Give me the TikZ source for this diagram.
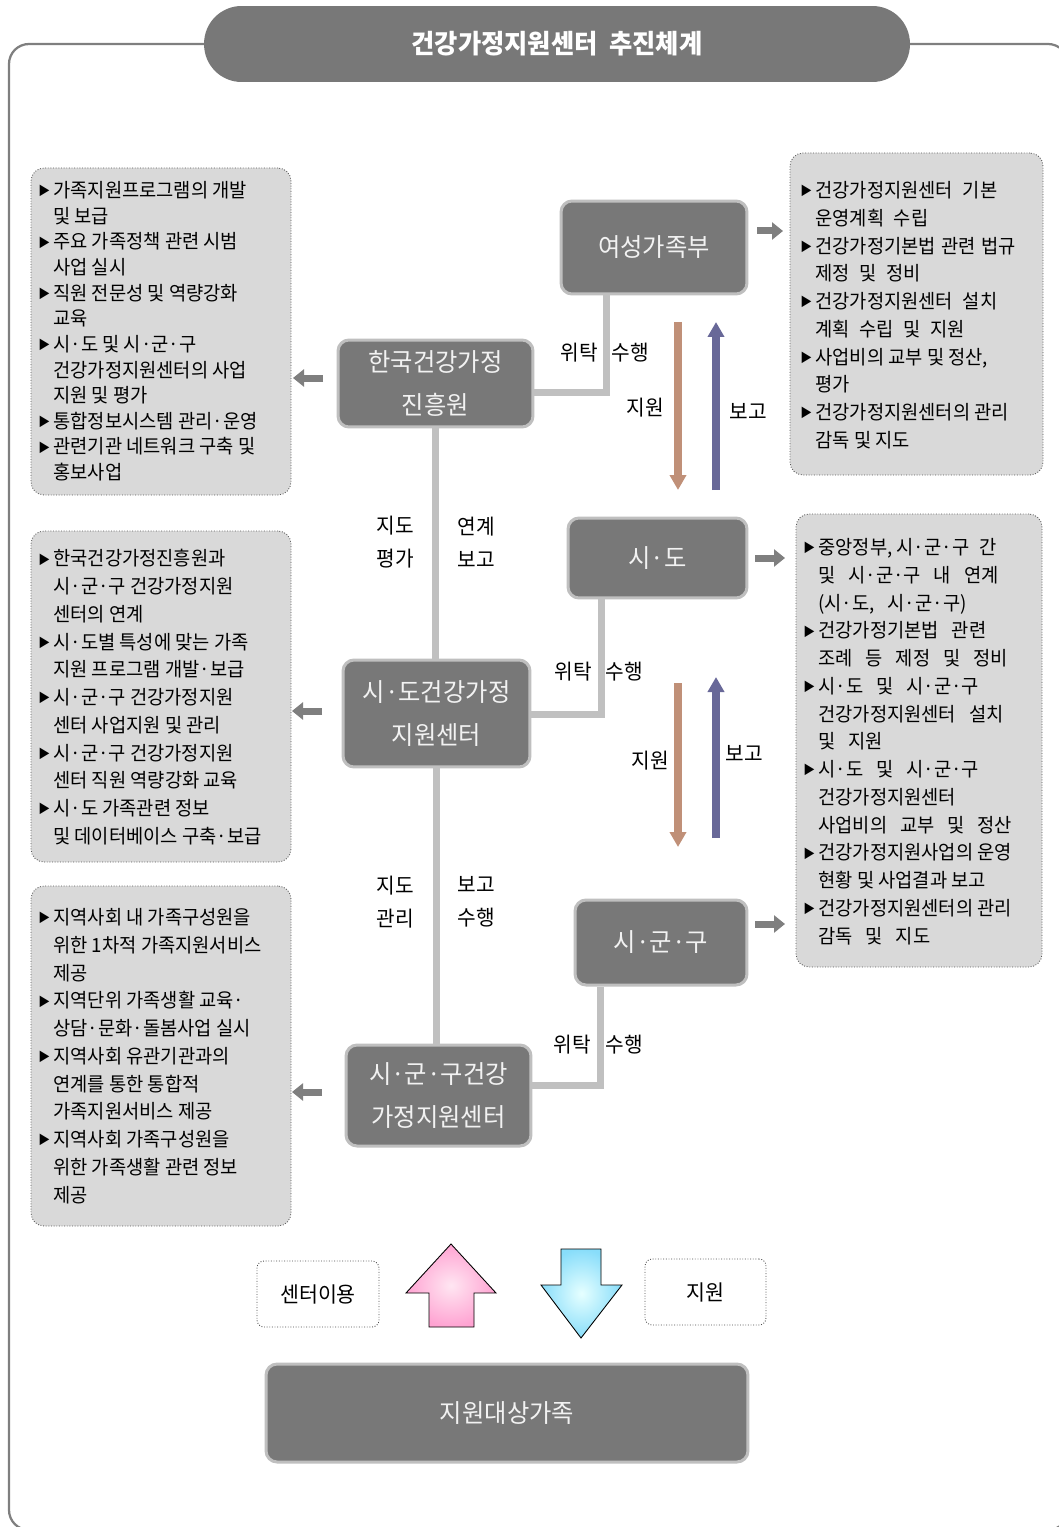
\documentclass[tikz,border=0pt]{standalone}
\usepackage{fontspec}
\newfontfamily\kr[FakeStretch=0.96]{Noto Sans CJK KR}
\usetikzlibrary{arrows.meta,fit}

\definecolor{boxfill}{HTML}{787878}
\definecolor{boxedge}{HTML}{BFBFBF}
\definecolor{conncol}{HTML}{C0C0C0}
\definecolor{infofill}{HTML}{D9D9D9}
\definecolor{framecol}{HTML}{7F7F7F}
\definecolor{garrowcol}{HTML}{7F7F7F}
\definecolor{browncol}{HTML}{C09078}
\definecolor{purplecol}{HTML}{686898}
\definecolor{pinkin}{HTML}{FFE6F2}
\definecolor{pinkout}{HTML}{FFA3D2}
\definecolor{bluein}{HTML}{E6FFFF}
\definecolor{blueout}{HTML}{88DDFA}

\newcommand{\bul}{\makebox[0.3cm][l]{\raisebox{0.15ex}{\fontsize{7}{7}\selectfont ▶}}}
\newcommand{\ind}{\hspace*{0.3cm}}
\newcommand{\ws}{\hspace{0.5em}}
\newcommand{\wws}{\hspace{0.66em}}
\newcommand{\ns}{\hspace{0.28em}}

\tikzset{
  darkbox/.style={draw=boxedge, line width=0.06cm, fill=boxfill, rounded corners=0.22cm, inner sep=0pt, text=white!95!black, align=center, font=\kr\fontsize{14.4}{24}\selectfont},
  titlebox/.style={fill=boxfill, rounded corners=0.75cm, inner sep=0pt, text=white, font=\kr\bfseries\fontsize{15}{18}\selectfont},
  infobox/.style={draw=black!65, densely dotted, line width=0.5pt, fill=infofill, rounded corners=0.26cm, inner sep=0pt},
  infotext/.style={anchor=north west, inner sep=0pt, align=left, text=black, font=\kr\fontsize{11.1}{15.8}\selectfont},
  dotbox/.style={draw=black!70, densely dotted, line width=0.5pt, fill=white, rounded corners=0.14cm, inner sep=0pt, font=\kr\fontsize{12.2}{14}\selectfont},
  lbl/.style={inner sep=0pt, align=center, text=black, font=\kr\fontsize{12}{18.7}\selectfont},
  conn/.style={draw=conncol, line width=0.14cm},
  garrow/.style={draw=garrowcol, line width=0.14cm, -{Triangle[width=0.34cm,length=0.22cm]}},
  brownarrow/.style={draw=browncol, line width=0.15cm, -{Triangle[width=0.32cm,length=0.3cm]}},
  purplearrow/.style={draw=purplecol, line width=0.15cm, -{Triangle[width=0.32cm,length=0.3cm]}},
  framestyle/.style={draw=framecol, line width=0.045cm, rounded corners=0.4cm},
}

\begin{document}
\begin{tikzpicture}[x=0.02cm,y=-0.02cm]
\useasboundingbox (0,0) rectangle (1058,1527);

% outer frame and title
\draw[framestyle] (9,44) rectangle (1068,1530);
\node[titlebox, minimum width=14.12cm, minimum height=1.52cm] (ttl) at (557,44) {건강가정지원센터\ \ 추진체계};

% info boxes
\node[infobox, fit={(31,168)(291,495)}] (L1) {};
\node[infobox, fit={(790,153)(1043,475)}] (R1) {};
\node[infobox, fit={(31,531)(291,862)}] (L2) {};
\node[infobox, fit={(796,514)(1042,967)}] (R2) {};
\node[infobox, fit={(31,886)(291,1226)}] (L3) {};

\node[infotext, font=\kr\fontsize{11.1}{14.6}\selectfont] (tL1) at (38,181) {%
\bul 가족지원프로그램의 개발\\
\ind 및 보급\\
\bul 주요 가족정책 관련 시범\\
\ind 사업 실시\\
\bul 직원 전문성 및 역량강화\\
\ind 교육\\
\bul 시·도 및 시·군·구\\
\ind 건강가정지원센터의 사업\\
\ind 지원 및 평가\\
\bul 통합정보시스템 관리·운영\\
\bul 관련기관 네트워크 구축 및\\
\ind 홍보사업};

\node[infotext] (tR1) at (800,181) {%
\bul 건강가정지원센터\ws 기본\\
\ind 운영계획\ws 수립\\
\bul 건강가정기본법\ns 관련\ns 법규\\
\ind 제정\ws 및\ws 정비\\
\bul 건강가정지원센터\ws 설치\\
\ind 계획\ws 수립\ws 및\ws 지원\\
\bul 사업비의 교부 및 정산,\\
\ind 평가\\
\bul 건강가정지원센터의 관리\\
\ind 감독 및 지도};

\node[infotext] (tL2) at (38,549) {%
\bul 한국건강가정진흥원과\\
\ind 시·군·구 건강가정지원\\
\ind 센터의 연계\\
\bul 시·도별 특성에 맞는 가족\\
\ind 지원 프로그램 개발·보급\\
\bul 시·군·구 건강가정지원\\
\ind 센터 사업지원 및 관리\\
\bul 시·군·구 건강가정지원\\
\ind 센터 직원 역량강화 교육\\
\bul 시·도 가족관련 정보\\
\ind 및 데이터베이스 구축·보급};

\node[infotext] (tR2) at (803,538) {%
\bul 중앙정부, 시·군·구\ws 간\\
\ind 및\wws 시·군·구\wws 내\wws 연계\\
\ind (시·도,\wws 시·군·구)\\
\bul 건강가정기본법\wws 관련\\
\ind 조례\wws 등\wws 제정\wws 및\wws 정비\\
\bul 시·도\wws 및\wws 시·군·구\\
\ind 건강가정지원센터\wws 설치\\
\ind 및\wws 지원\\
\bul 시·도\wws 및\wws 시·군·구\\
\ind 건강가정지원센터\\
\ind 사업비의\wws 교부\wws 및\wws 정산\\
\bul 건강가정지원사업의 운영\\
\ind 현황 및 사업결과 보고\\
\bul 건강가정지원센터의 관리\\
\ind 감독\wws 및\wws 지도};

\node[infotext] (tL3) at (38,908) {%
\bul 지역사회 내 가족구성원을\\
\ind 위한 1차적 가족지원서비스\\
\ind 제공\\
\bul 지역단위 가족생활 교육·\\
\ind 상담·문화·돌봄사업 실시\\
\bul 지역사회 유관기관과의\\
\ind 연계를 통한 통합적\\
\ind 가족지원서비스 제공\\
\bul 지역사회 가족구성원을\\
\ind 위한 가족생활 관련 정보\\
\ind 제공};

% dark boxes
\node[darkbox, minimum width=3.72cm, minimum height=1.86cm] (yg) at (654,247.5) {여성가족부};
\node[darkbox, minimum width=3.9cm, minimum height=1.74cm] (hk) at (435.5,383.5) {한국건강가정\\진흥원};
\node[darkbox, minimum width=3.58cm, minimum height=1.6cm] (sd) at (657.5,558) {시·도};
\node[darkbox, minimum width=3.74cm, minimum height=2.14cm] (sdc) at (436.5,713.5) {시·도건강가정\\지원센터};
\node[darkbox, minimum width=3.44cm, minimum height=1.7cm] (sgg) at (661,942.5) {시·군·구};
\node[darkbox, minimum width=3.7cm, minimum height=2.02cm] (sggc) at (438.5,1095.5) {시·군·구건강\\가정지원센터};
\node[darkbox, minimum width=9.64cm, minimum height=1.96cm] (fam) at (507,1413) {지원대상가족};

% connectors
\coordinate (e1) at (606,392);
\coordinate (e2) at (601,714);
\coordinate (e3) at (600,1085);
\draw[conn] (hk.east |- e1) -- (e1) -- (yg.south -| e1);
\draw[conn] (sdc.east |- e2) -- (e2) -- (sd.south -| e2);
\draw[conn] (sggc.east |- e3) -- (e3) -- (sgg.south -| e3);
\draw[conn] (hk.south) -- (hk.south |- sdc.north);
\draw[conn] (sdc.south) -- (sdc.south |- sggc.north);

% labels
\node[lbl] (w1) at (579,353) {위탁};
\node[lbl] (s1) at (630,353) {수행};
\node[lbl] (j1) at (645,408) {지원};
\node[lbl] (b1) at (748,411) {보고};
\node[lbl] (jd1) at (395,542) {지도\\평가};
\node[lbl] (yb1) at (476,542) {연계\\보고};
\node[lbl] (w2) at (573,672) {위탁};
\node[lbl] (s2) at (624,672) {수행};
\node[lbl] (j2) at (650,761) {지원};
\node[lbl] (b2) at (744,753) {보고};
\node[lbl] (jd2) at (395,902) {지도\\관리};
\node[lbl] (yb2) at (476,902) {보고\\수행};
\node[lbl] (w3) at (572,1045) {위탁};
\node[lbl] (s3) at (624,1045) {수행};

% support / report arrows
\coordinate (a1t) at (678,322); \coordinate (a1b) at (678,490);
\coordinate (a2t) at (716,322); \coordinate (a2b) at (716,490);
\coordinate (a3t) at (678,683); \coordinate (a3b) at (678,847);
\coordinate (a4t) at (716,677); \coordinate (a4b) at (716,838);
\draw[brownarrow] (a1t) -- (a1b);
\draw[purplearrow] (a2b) -- (a2t);
\draw[brownarrow] (a3t) -- (a3b);
\draw[purplearrow] (a4b) -- (a4t);

% small gray arrows toward info boxes
\coordinate (g1a) at (757,231); \coordinate (g1b) at (783,231);
\coordinate (g2a) at (323,378); \coordinate (g2b) at (293,378);
\coordinate (g3a) at (755,558); \coordinate (g3b) at (785,558);
\coordinate (g4a) at (322,711); \coordinate (g4b) at (292,711);
\coordinate (g5a) at (755,924); \coordinate (g5b) at (785,924);
\coordinate (g6a) at (322,1092); \coordinate (g6b) at (292,1092);
\draw[garrow] (g1a) -- (g1b);
\draw[garrow] (g2a) -- (g2b);
\draw[garrow] (g3a) -- (g3b);
\draw[garrow] (g4a) -- (g4b);
\draw[garrow] (g5a) -- (g5b);
\draw[garrow] (g6a) -- (g6b);

% bottom
\node[dotbox, minimum width=2.44cm, minimum height=1.32cm] (use) at (318,1294) {센터이용};
\node[dotbox, minimum width=2.42cm, minimum height=1.32cm] (sup) at (705.5,1292) {지원};
\shadedraw[inner color=pinkin, outer color=pinkout, draw=black, line width=0.5pt]
  (451,1244) -- (496,1293) -- (474,1293) -- (474,1327) -- (429,1327) -- (429,1293) -- (406,1293) -- cycle;
\shadedraw[inner color=bluein, outer color=blueout, draw=black, line width=0.5pt]
  (561,1249) -- (601,1249) -- (601,1285) -- (622,1285) -- (581,1338) -- (541,1285) -- (561,1285) -- cycle;
\end{tikzpicture}
\end{document}
